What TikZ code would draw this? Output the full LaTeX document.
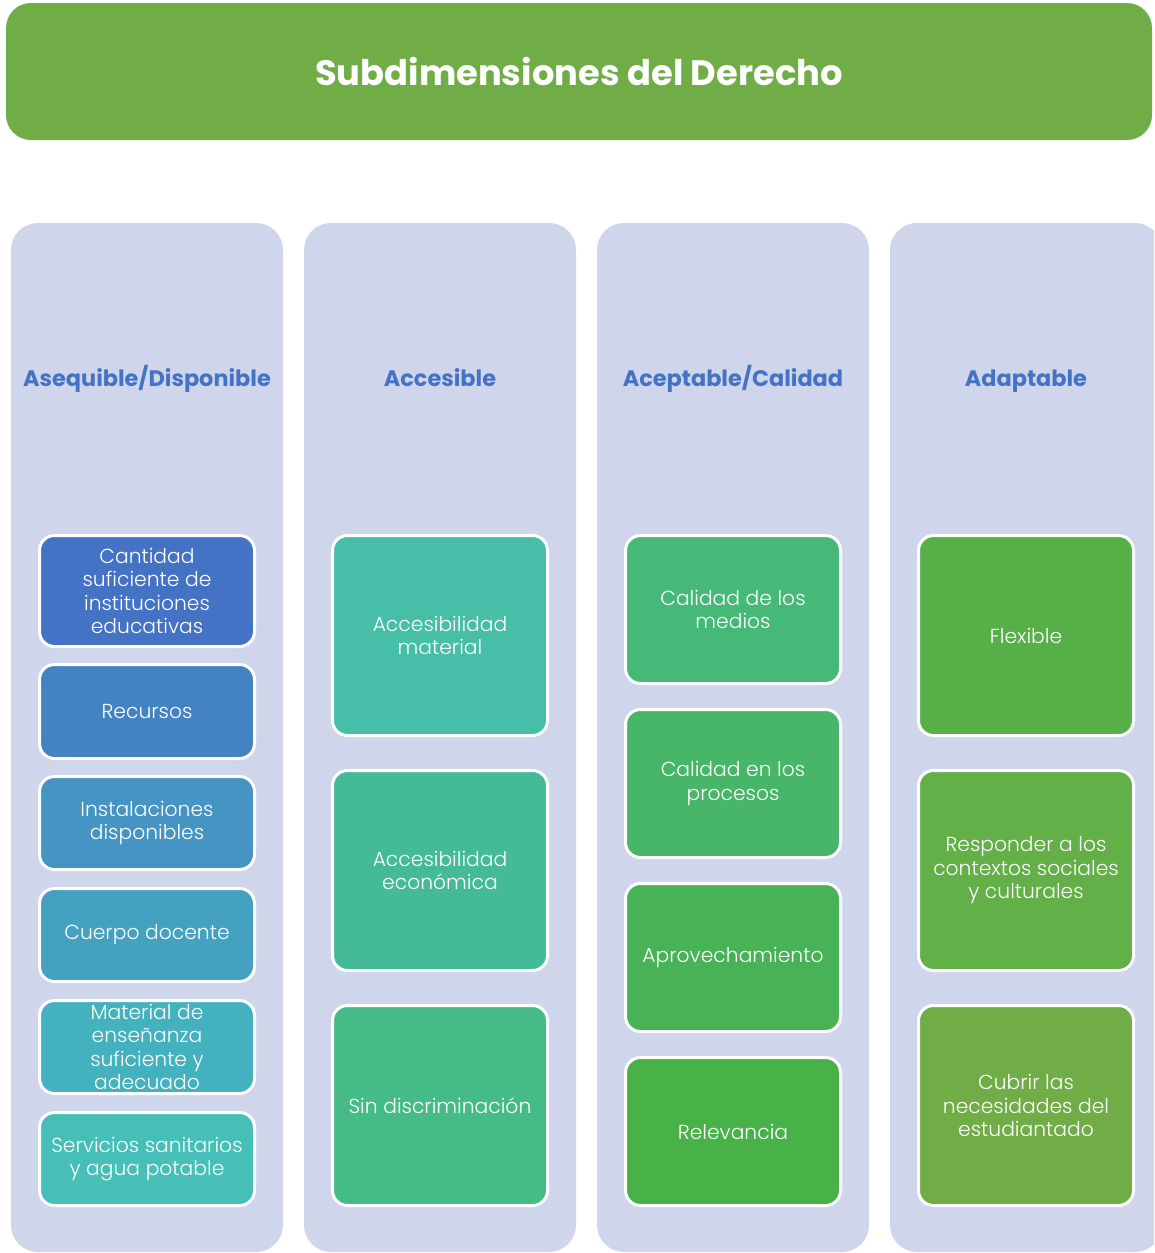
\documentclass[tikz,border=0pt]{standalone}
\usepackage{fontspec}
\setmainfont{Poppins}
\newfontfamily\lightfont{Poppins Light}
\definecolor{titlegreen}{RGB}{112,173,71}
\definecolor{colbg}{RGB}{207,213,234}
\definecolor{headblue}{RGB}{68,114,196}
\definecolor{asqA}{RGB}{68,114,196}
\definecolor{asqB}{RGB}{67,131,194}
\definecolor{asqC}{RGB}{69,148,195}
\definecolor{asqD}{RGB}{68,162,192}
\definecolor{asqE}{RGB}{68,177,191}
\definecolor{asqF}{RGB}{69,191,184}
\definecolor{accA}{RGB}{70,190,168}
\definecolor{accB}{RGB}{68,187,150}
\definecolor{accC}{RGB}{69,188,135}
\definecolor{acpA}{RGB}{70,185,120}
\definecolor{acpB}{RGB}{71,182,104}
\definecolor{acpC}{RGB}{71,179,86}
\definecolor{acpD}{RGB}{72,178,72}
\definecolor{adaA}{RGB}{86,176,71}
\definecolor{adaB}{RGB}{99,175,72}
\definecolor{adaC}{RGB}{112,173,71}
\usetikzlibrary{positioning}

\begin{document}
\begin{tikzpicture}[
  x=1pt, y=-1pt,
  title/.style={rectangle, fill=titlegreen, rounded corners=25pt, minimum width=1146pt, minimum height=137pt, text=white, font=\bfseries\fontsize{35.3}{40}\selectfont},
  column/.style={rectangle, fill=colbg, rounded corners=27pt, minimum width=272pt, minimum height=1029pt},
  head/.style={anchor=base, text=headblue, font=\bfseries\fontsize{22.4}{26}\selectfont},
  sub/.style={rectangle, draw=white, line width=3pt, rounded corners=15pt, minimum width=215pt, align=center, text=white, font=\lightfont\fontsize{20.3}{23.5}\selectfont}
]
  \useasboundingbox (0,0) rectangle (1154,1253);
  \clip (0,0) rectangle (1154,1253);

  \node[title] (tit) at (579,71.5) {Subdimensiones del Derecho};

  % columnas
  \node[column] (asq) at (147,737.5) {};
  \node[column] (acc) at (440,737.5) {};
  \node[column] (acp) at (733,737.5) {};
  \node[column] (ada) at (1026,737.5) {};

  \node[head] (asqh) at (147,386) {Asequible/Disponible};
  \node[head] (acch) at (440,386) {Accesible};
  \node[head] (acph) at (733,386) {Aceptable/Calidad};
  \node[head] (adah) at (1026,386) {Adaptable};

  % Asequible/Disponible
  \node[sub, fill=asqA, minimum height=111pt] (asq1) at (147,591) {Cantidad\\suficiente de\\instituciones\\educativas};
  \node[sub, fill=asqB, minimum height=94pt] (asq2) at (147,711.5) {Recursos};
  \node[sub, fill=asqC, minimum height=93pt] (asq3) at (147,823) {Instalaciones\\disponibles};
  \node[sub, fill=asqD, minimum height=93pt] (asq4) at (147,935) {Cuerpo docente};
  \node[sub, fill=asqE, minimum height=93pt] (asq5) at (147,1047) {Material de\\enseñanza\\suficiente y\\adecuado};
  \node[sub, fill=asqF, minimum height=93pt] (asq6) at (147,1159) {Servicios sanitarios\\y agua potable};

  % Accesible
  \node[sub, fill=accA, minimum height=200pt] (acc1) at (440,635.5) {Accesibilidad\\material};
  \node[sub, fill=accB, minimum height=200pt] (acc2) at (440,870.5) {Accesibilidad\\económica};
  \node[sub, fill=accC, minimum height=200pt] (acc3) at (440,1105.5) {Sin discriminación};

  % Aceptable/Calidad
  \node[sub, fill=acpA, minimum height=148pt] (acp1) at (733,609.5) {Calidad de los\\medios};
  \node[sub, fill=acpB, minimum height=148pt] (acp2) at (733,783.5) {Calidad en los\\procesos};
  \node[sub, fill=acpC, minimum height=148pt] (acp3) at (733,957.5) {Aprovechamiento};
  \node[sub, fill=acpD, minimum height=148pt] (acp4) at (733,1131.5) {Relevancia};

  % Adaptable
  \node[sub, fill=adaA, minimum height=200pt] (ada1) at (1026,635.5) {Flexible};
  \node[sub, fill=adaB, minimum height=200pt] (ada2) at (1026,870.5) {Responder a los\\contextos sociales\\y culturales};
  \node[sub, fill=adaC, minimum height=200pt] (ada3) at (1026,1105.5) {Cubrir las\\necesidades del\\estudiantado};
\end{tikzpicture}
\end{document}
